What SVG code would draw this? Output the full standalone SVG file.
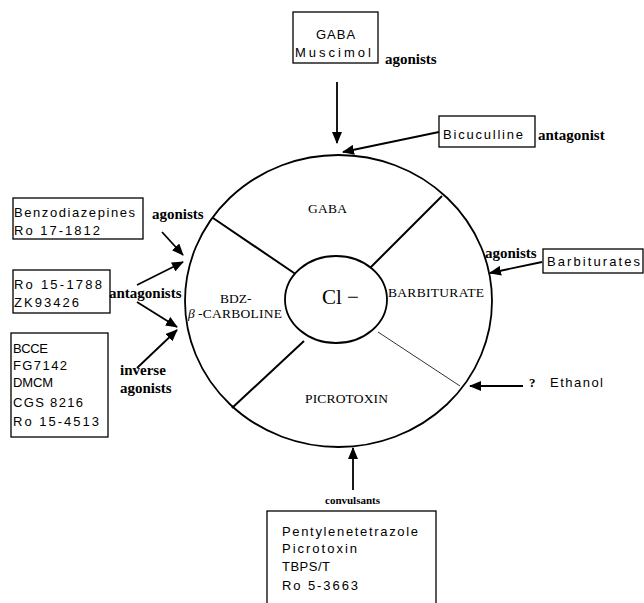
<svg xmlns="http://www.w3.org/2000/svg" width="644" height="603" viewBox="0 0 644 603">
<style>
.box{fill:#fff;stroke:#000;stroke-width:1.3}
.bt{font-family:"Liberation Sans",Arial,sans-serif;font-size:13px;fill:#000}
.lb{font-family:"Liberation Serif","Times New Roman",serif;font-size:15px;font-weight:bold;fill:#000}
.sg{font-family:"Liberation Serif","Times New Roman",serif;font-size:13.5px;fill:#000}
.cn{stroke:#000;stroke-width:1.8;fill:none}
.div{stroke:#000;stroke-width:2;fill:none}
</style>
<defs>
<marker id="ah" markerUnits="userSpaceOnUse" markerWidth="12" markerHeight="10" refX="11" refY="5" orient="auto">
<path d="M0,0 L12,5 L0,10 Z" fill="#000"/>
</marker>
</defs>
<rect width="644" height="603" fill="#fff"/>
<g id="receptor">
<ellipse cx="338.5" cy="301" rx="153.5" ry="146" fill="none" stroke="#000" stroke-width="1.8"/>
<line class="div" x1="213" y1="218" x2="297" y2="275"/>
<line class="div" x1="442" y1="196" x2="370" y2="268"/>
<line class="div" x1="304" y1="341" x2="232" y2="408"/>
<line x1="378" y1="332" x2="460" y2="386" stroke="#333" stroke-width="1"/>
<ellipse cx="336" cy="299.5" rx="51" ry="43.5" fill="#fff" stroke="#000" stroke-width="1.8"/>
<text x="322" y="304" font-family="Liberation Serif,Times New Roman,serif" font-size="21">Cl −</text>
<text class="sg" x="308" y="213" textLength="39">GABA</text>
<text class="sg" x="388" y="297" textLength="96">BARBITURATE</text>
<text class="sg" x="305" y="403" textLength="83">PICROTOXIN</text>
<text class="sg" x="220" y="303">BDZ-</text>
<text class="sg" x="198" y="318" textLength="84">-CARBOLINE</text>
<text x="188" y="318" font-family="Liberation Serif,serif" font-size="13.5" font-style="italic">β</text>
</g>
<g id="gaba-box">
<rect class="box" x="293" y="12" width="85" height="51"/>
<text class="bt" x="336" y="39" text-anchor="middle" letter-spacing="1">GABA</text>
<text class="bt" x="295" y="57" textLength="76">Muscimol</text>
<text class="lb" x="385" y="64">agonists</text>
</g>
<g id="bicuculline-box">
<rect class="box" x="439" y="116" width="96" height="31"/>
<text class="bt" x="443" y="139" textLength="80">Bicuculline</text>
<text class="lb" x="538" y="140">antagonist</text>
</g>
<g id="barbiturates-box">
<rect class="box" x="543" y="249" width="100" height="24"/>
<text class="bt" x="547" y="266" textLength="93">Barbiturates</text>
<text class="lb" x="485" y="258">agonists</text>
</g>
<g id="benzo-box">
<rect class="box" x="13" y="198" width="130" height="41"/>
<text class="bt" x="14" y="217" textLength="121">Benzodiazepines</text>
<text class="bt" x="14" y="235" textLength="86">Ro 17-1812</text>
<text class="lb" x="152" y="219">agonists</text>
</g>
<g id="antag-box">
<rect class="box" x="13" y="270" width="97" height="43"/>
<text class="bt" x="14" y="289" textLength="88">Ro 15-1788</text>
<text class="bt" x="14" y="307" textLength="65">ZK93426</text>
<text class="lb" x="109" y="298">antagonists</text>
</g>
<g id="inverse-box">
<rect class="box" x="11" y="333" width="97" height="104"/>
<text class="bt" x="13" y="353" textLength="35">BCCE</text>
<text class="bt" x="13" y="370" textLength="54">FG7142</text>
<text class="bt" x="13" y="387" textLength="40">DMCM</text>
<text class="bt" x="13" y="407" textLength="70">CGS 8216</text>
<text class="bt" x="13" y="426" textLength="86">Ro 15-4513</text>
<text class="lb" x="120" y="375">inverse</text>
<text class="lb" x="120" y="393">agonists</text>
</g>
<g id="ethanol">
<text x="529" y="387" font-family="Liberation Serif,serif" font-size="13" font-weight="bold">?</text>
<text class="bt" x="550" y="387" textLength="53">Ethanol</text>
</g>
<g id="convulsant-box">
<rect class="box" x="267" y="511" width="169" height="100"/>
<text class="bt" x="282" y="536" textLength="136">Pentylenetetrazole</text>
<text class="bt" x="282" y="553" textLength="75">Picrotoxin</text>
<text class="bt" x="282" y="571" textLength="48">TBPS/T</text>
<text class="bt" x="282" y="590" textLength="76">Ro 5-3663</text>
<text x="325" y="504" font-family="Liberation Serif,serif" font-size="11" font-weight="bold" textLength="55">convulsants</text>
</g>
<g id="connectors">
<line class="cn" x1="337" y1="82" x2="337" y2="143" marker-end="url(#ah)"/>
<line class="cn" x1="439" y1="132" x2="343" y2="152" marker-end="url(#ah)"/>
<line class="cn" x1="542" y1="262" x2="490" y2="273" marker-end="url(#ah)"/>
<line class="cn" x1="523" y1="386" x2="470" y2="386" marker-end="url(#ah)"/>
<line class="cn" x1="353" y1="490" x2="353" y2="448" marker-end="url(#ah)"/>
<line class="cn" x1="162" y1="232" x2="183" y2="255" marker-end="url(#ah)"/>
<line class="cn" x1="137" y1="285" x2="183" y2="262" marker-end="url(#ah)"/>
<line class="cn" x1="137" y1="302" x2="177" y2="327" marker-end="url(#ah)"/>
<line class="cn" x1="137" y1="368" x2="177" y2="330" marker-end="url(#ah)"/>
</g>
</svg>
